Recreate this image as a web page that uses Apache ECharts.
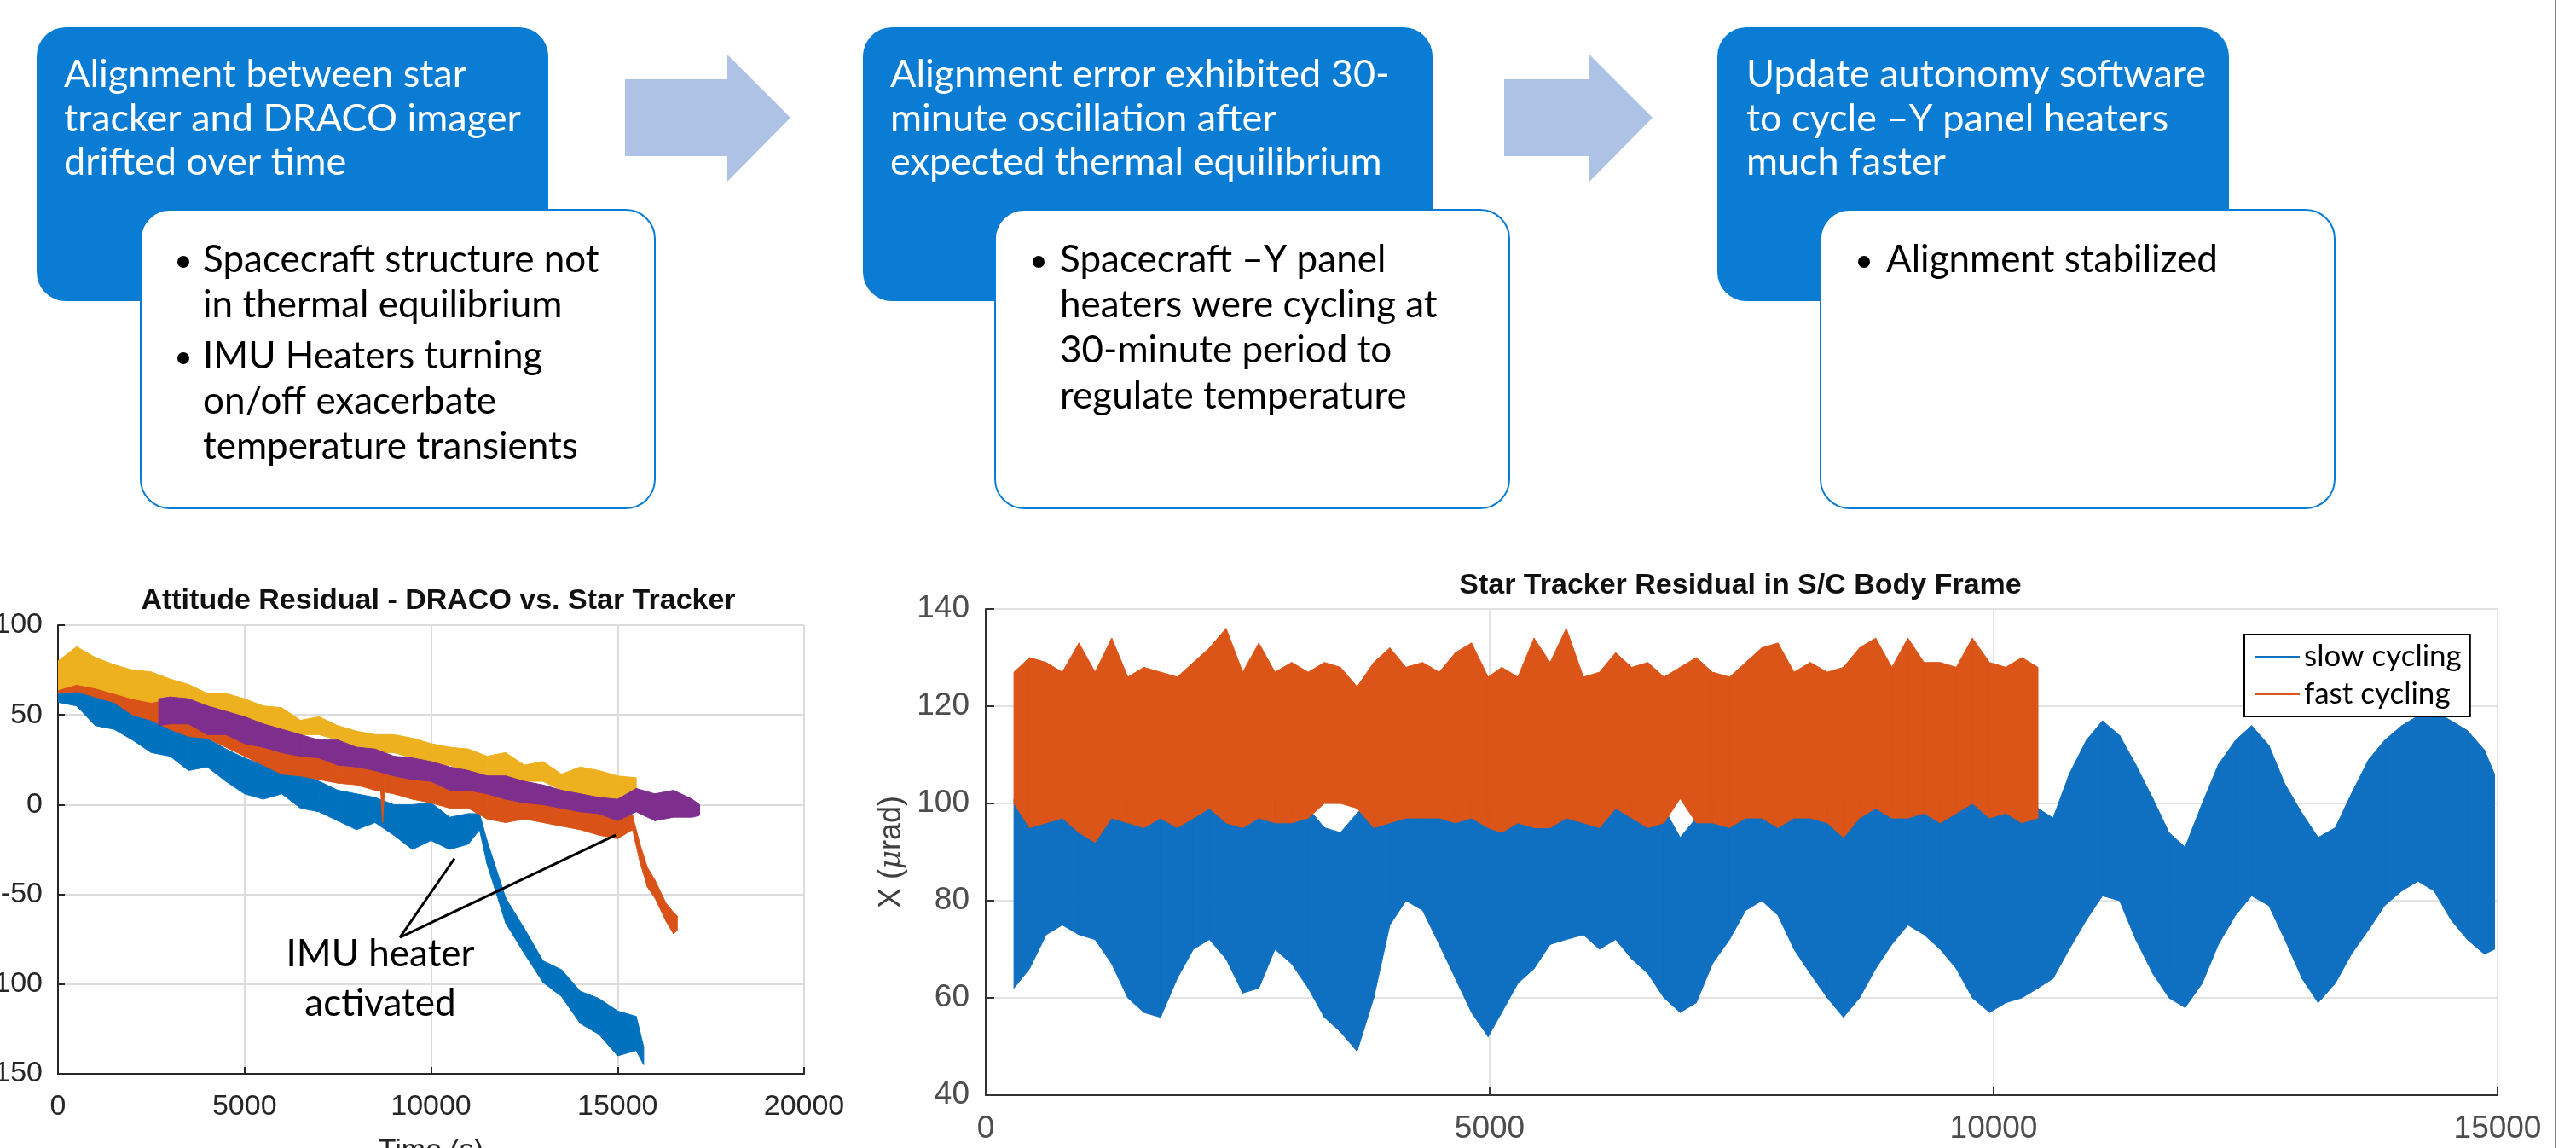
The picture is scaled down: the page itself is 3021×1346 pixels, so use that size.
<!DOCTYPE html>
<html>
<head>
<meta charset="utf-8">
<title>DRACO / star tracker alignment</title>
<script src="https://cdn.jsdelivr.net/npm/echarts@6/dist/echarts.min.js"></script>
<style>
  html, body { margin: 0; padding: 0; background: #fff; }
  #chart { width: 3021px; height: 1346px; }
</style>
</head>
<body>
<div id="chart"></div>
<script>
// ---- left plot: attitude residual, DRACO vs star tracker (band = low/high envelope of the noisy trace)
const blueT  = [0,500,1000,1500,2000,2500,3000,3500,4000,4500,5000,5500,6000,6500,7000,7500,8000,8500,9000,9500,10000,10500,11000,11300,11500,12000,12500,13000,13500,14000,14500,15000,15500,15700]
const blueLo = [57,55,44,42,36,29,27,19,21,13,6,3,6,-2,-4,-9,-14,-10,-17,-25,-20,-25,-22,-14,-33,-66,-83,-99,-107,-122,-128,-140,-137,-145]
const blueHi = [67,68,64,65,57,50,45,41,37,31,26,22,26,18,13,8,6,4,0,0,1,-7,-5,-5,-20,-52,-69,-87,-92,-104,-108,-115,-118,-135]

const orangeT  = [0,500,1000,1500,2000,2500,3000,3500,4000,4500,5000,5500,6000,6500,7000,7500,8000,8500,8650,8700,8750,9000,9500,10000,10500,11000,11500,12000,12500,13000,13500,14000,14500,15000,15400,15600,15800,16000,16300,16500,16600]
const orangeLo = [62,63,60,57,50,47,42,38,37,32,27,22,17,16,14,12,11,8,8,-10,7,6,3,1,-2,-2,-8,-10,-8,-10,-12,-14,-17,-19,-14,-32,-46,-52,-65,-72,-70]
const orangeHi = [78,80,78,74,73,63,58,52,50,48,45,42,39,37,36,30,27,25,24,20,23,22,21,19,10,9,9,8,6,6,3,0,-2,-3,-6,-22,-35,-42,-55,-60,-62]

const yellowT  = [0,500,1000,1500,2000,2500,3000,3500,4000,4500,5000,5500,6000,6500,7000,7500,8000,8500,9000,9500,10000,10500,11000,11500,12000,12500,13000,13500,14000,14500,15000,15500]
const yellowLo = [64,67,65,62,59,57,59,55,52,50,47,44,41,39,39,36,32,29,29,26,21,22,17,16,16,13,13,8,6,4,3,6]
const yellowHi = [80,88,82,78,75,74,70,67,62,62,59,55,54,47,49,44,41,39,39,37,34,32,31,27,29,22,24,17,21,19,16,15]

const purpleT  = [2700,3000,3500,4000,4500,5000,5500,6000,6500,7000,7500,8000,8500,9000,9500,10000,10500,11000,11500,12000,12500,13000,13500,14000,14500,15000,15500,16000,16500,17000,17200]
const purpleLo = [44,45,45,39,39,34,32,29,27,26,22,21,19,16,14,13,8,8,6,3,1,0,-2,-4,-5,-9,-4,-9,-7,-7,-6]
const purpleHi = [59,60,59,55,52,49,45,42,39,36,36,32,31,27,26,24,21,19,16,16,13,11,8,6,4,3,9,6,8,3,0]

// arrows of the "IMU heater activated" note: [from, to] in data units
const noteFrom = [9166, -74]
const noteTo = [[10629, -30], [14949, -17]]
const noteAt = [8640, -97]

// ---- right plot: star tracker residual X (urad), slow vs fast heater cycling
const resT = [280,435,600,760,925,1085,1250,1410,1570,1735,1900,2060,2220,2385,2550,2710,2870,3035,3200,3360,3520,3685,3850,4010,4170,4335,4500,4660,4820,4985,5120,5280,5440,5600,5760,5930,6090,6250,6410,6570,6730,6890,7050,7210,7380,7540,7700,7860,8020,8180,8350,8510,8670,8830,8990,9150,9310,9470,9630,9790,9960,10120,10280,10440,10590,10750,10920,11080,11250,11410,11580,11740,11900,12070,12230,12400,12560,12730,12890,13060,13220,13390,13550,13720,13880,14050,14210,14370,14540,14700,14870,14970]
const slowLo = [62,66,73,75,73,72,67,60,57,56,64,70,72,68,61,62,70,67,62,56,53,49,60,75,80,78,71,64,57,52,57,63,66,71,72,73,70,72,68,65,60,57,59,67,72,78,80,77,70,65,60,56,60,66,71,75,73,70,66,60,57,59,60,62,64,70,76,81,80,72,65,60,58,63,71,77,81,79,72,64,59,63,69,74,79,82,84,82,76,72,69,70]
const slowHi = [101,100,101,102,100,101,100,101,102,100,101,100,101,100,101,100,101,100,99,95,94,98,101,102,101,100,101,100,101,100,101,100,101,102,101,100,101,100,101,100,99,93,97,101,100,101,102,101,100,101,100,101,100,101,102,101,100,101,100,101,100,101,100,99,97,106,113,117,114,108,101,94,91,100,108,113,116,112,104,98,93,95,102,109,113,116,118,119,117,115,111,106]
const fastLo = [100,95,96,97,94,92,97,96,95,97,95,97,99,96,95,97,96,96,97,100,100,99,95,96,97,97,97,96,97,95,94,96,95,95,97,96,95,99,97,95,96,101,96,96,95,97,97,95,97,97,96,93,97,99,97,97,98,96,98,100,97,98,96,97]
const fastHi = [127,130,129,127,133,127,134,126,128,127,126,129,132,136,127,133,127,129,127,129,128,124,129,132,128,129,127,131,133,126,128,126,134,129,136,126,127,131,128,129,126,128,130,127,126,129,132,133,127,129,127,128,132,134,128,134,129,129,128,134,129,128,130,128]

const FONT_AX = 'Liberation Sans'
const FONT_TXT = 'Lato'
const BOX_BLUE = '#0B7CD3'

// envelope band: one quad per step, from (t, lo..hi) to the next sample
function band(name, t, lo, hi, color, axis) {
  return {
    name: name, type: 'custom', xAxisIndex: axis, yAxisIndex: axis,
    silent: true, animation: false, clip: true,
    itemStyle: { color: color },
    encode: { x: 0, y: [1, 2] },
    data: t.map((x, i) => [x, lo[i], hi[i]]),
    renderItem: function (params, api) {
      const i = params.dataIndexInside
      if (i >= t.length - 1) return null
      const p0 = api.coord([api.value(0), api.value(1)])
      const p1 = api.coord([api.value(0), api.value(2)])
      const p2 = api.coord([api.value(0, i + 1), api.value(2, i + 1)])
      const p3 = api.coord([api.value(0, i + 1), api.value(1, i + 1)])
      return {
        type: 'polygon',
        shape: { points: [p0, p1, p2, p3] },
        style: { fill: color, stroke: color, lineWidth: 1 }
      }
    }
  }
}

function axisStyle(color, w) {
  return { show: true, onZero: false, lineStyle: { color: color, width: w } }
}

// slide boxes and arrows (layout only)
function flowGraphics() {
  const els = []
  const blue = [[43, 600], [1012, 668], [2014, 600]]
  const white = [165, 1167, 2135]
  blue.forEach(b => els.push({ type: 'rect', shape: { x: b[0], y: 32, width: b[1], height: 321, r: 34 }, style: { fill: BOX_BLUE } }))
  white.forEach(x => els.push({ type: 'rect', z: 2, shape: { x: x, y: 246, width: 603, height: 350, r: 34 }, style: { fill: '#fff', stroke: BOX_BLUE, lineWidth: 2 } }))
  const arrow = (x0, xh, xt) => ({
    type: 'polygon',
    shape: { points: [[x0, 93], [xh, 93], [xh, 64], [xt, 138], [xh, 213], [xh, 183], [x0, 183]] },
    style: { fill: '#AEC2E6' }
  })
  els.push(arrow(733, 853, 927), arrow(1764, 1864, 1938))

  const head = (x, text) => ({
    type: 'text', x: x, y: 62, z: 3,
    style: { text: text, font: '45px ' + FONT_TXT, fill: '#fff', lineHeight: 51.5, align: 'left', verticalAlign: 'top', textAlign: 'left', textVerticalAlign: 'top' }
  })
  els.push(head(75, 'Alignment between star\ntracker and DRACO imager\ndrifted over time'))
  els.push(head(1044, 'Alignment error exhibited 30-\nminute oscillation after\nexpected thermal equilibrium'))
  els.push(head(2048, 'Update autonomy software\nto cycle \u2013Y panel heaters\nmuch faster'))

  const bullet = (xd, xt, y, text) => {
    els.push({ type: 'circle', z: 3, shape: { cx: xd, cy: y + 29, r: 7 }, style: { fill: '#000' } })
    els.push({
      type: 'text', x: xt, y: y, z: 3,
      style: { text: text, font: '44px ' + FONT_TXT, fill: '#000', lineHeight: 53.3, align: 'left', verticalAlign: 'top', textAlign: 'left', textVerticalAlign: 'top' }
    })
  }
  bullet(215, 238, 278, 'Spacecraft structure not\nin thermal equilibrium')
  bullet(215, 238, 391, 'IMU Heaters turning\non/off exacerbate\ntemperature transients')
  bullet(1218, 1243, 278, 'Spacecraft \u2013Y panel\nheaters were cycling at\n30-minute period to\nregulate temperature')
  bullet(2186, 2212, 278, 'Alignment stabilized')

  // plot titles
  const title = (x, y, text) => ({
    type: 'text', x: x, y: y, z: 3,
    style: { text: text, font: 'bold 34px ' + FONT_AX, fill: '#111', align: 'center', verticalAlign: 'middle', textAlign: 'center', textVerticalAlign: 'middle' }
  })
  els.push(title(514, 705, 'Attitude Residual - DRACO vs. Star Tracker'))
  els.push(title(2041, 687, 'Star Tracker Residual in S/C Body Frame'))

  els.push({ type: 'line', shape: { x1: 2997, y1: 0, x2: 2997, y2: 1346 }, style: { stroke: '#8a8a8a', lineWidth: 2 } })
  return els
}

const chart = echarts.init(document.getElementById('chart'))

const series = [
  band('blue', blueT, blueLo, blueHi, '#0072BD', 0),
  band('orange', orangeT, orangeLo, orangeHi, '#D95319', 0),
  band('yellow', yellowT, yellowLo, yellowHi, '#EDB120', 0),
  band('purple', purpleT, purpleLo, purpleHi, '#7E2F8E', 0),
  band('slow cycling', resT, slowLo, slowHi, '#0F6FC0', 1),
  band('fast cycling', resT.slice(0, fastHi.length), fastLo, fastHi, '#DB5418', 1),
  {
    name: 'note', type: 'line', xAxisIndex: 0, yAxisIndex: 0, data: [], silent: true, animation: false,
    markLine: {
      silent: true, animation: false,
      symbol: ['none', 'arrow'], symbolSize: [0, 20],
      lineStyle: { color: '#000', width: 3, type: 'solid' },
      label: { show: false },
      data: noteTo.map(p => [{ coord: noteFrom }, { coord: p }])
    },
    markPoint: {
      silent: true, animation: false,
      symbol: 'circle', symbolSize: 0,
      label: {
        show: true, position: 'inside', formatter: 'IMU heater\nactivated',
        fontFamily: FONT_TXT, fontSize: 44, color: '#000', lineHeight: 58
      },
      data: [{ coord: noteAt }]
    }
  }
]

const plain = v => String(v)

const option = {
  animation: false,
  graphic: { elements: flowGraphics() },
  grid: [
    { left: 68, top: 733, width: 875, height: 526, outerBoundsMode: 'none', containLabel: false },
    { left: 1156, top: 714, width: 1773, height: 570, outerBoundsMode: 'none', containLabel: false }
  ],
  legend: {
    data: ['slow cycling', 'fast cycling'],
    orient: 'vertical', left: 2632, top: 744,
    backgroundColor: '#fff', borderColor: '#000', borderWidth: 2,
    padding: [6, 10, 6, 12], itemGap: 4,
    icon: 'rect', itemWidth: 53, itemHeight: 2,
    selectedMode: false,
    textStyle: { fontFamily: FONT_TXT, fontSize: 35, color: '#000', lineHeight: 40 }
  },
  xAxis: [
    {
      gridIndex: 0, type: 'value', min: 0, max: 20000, interval: 5000,
      axisLine: axisStyle('#262626', 2),
      axisTick: { show: true, inside: true, length: 8, lineStyle: { color: '#262626', width: 2 } },
      axisLabel: { fontFamily: FONT_AX, fontSize: 34, color: '#262626', margin: 22, formatter: plain },
      splitLine: { show: true, lineStyle: { color: '#dcdcdc', width: 2 } },
      name: 'Time (s)', nameLocation: 'middle', nameGap: 74,
      nameTextStyle: { fontFamily: FONT_AX, fontSize: 34, color: '#262626' }
    },
    {
      gridIndex: 1, type: 'value', min: 0, max: 15000, interval: 5000,
      axisLine: axisStyle('#333', 2),
      axisTick: { show: true, inside: true, length: 10, lineStyle: { color: '#333', width: 2 } },
      axisLabel: { fontFamily: FONT_AX, fontSize: 37, color: '#4d4d4d', margin: 21, formatter: plain },
      splitLine: { show: true, lineStyle: { color: '#e2e2e2', width: 2 } }
    }
  ],
  yAxis: [
    {
      gridIndex: 0, type: 'value', min: -150, max: 100, interval: 50,
      axisLine: axisStyle('#262626', 2),
      axisTick: { show: true, inside: true, length: 8, lineStyle: { color: '#262626', width: 2 } },
      axisLabel: { fontFamily: FONT_AX, fontSize: 34, color: '#262626', margin: 18 },
      splitLine: { show: true, lineStyle: { color: '#dcdcdc', width: 2 } }
    },
    {
      gridIndex: 1, type: 'value', min: 40, max: 140, interval: 20,
      axisLine: axisStyle('#333', 2),
      axisTick: { show: true, inside: true, length: 10, lineStyle: { color: '#333', width: 2 } },
      axisLabel: { fontFamily: FONT_AX, fontSize: 37, color: '#4d4d4d', margin: 19 },
      splitLine: { show: true, lineStyle: { color: '#e2e2e2', width: 2 } },
      name: 'X ({i|\u03bc}rad)', nameLocation: 'middle', nameGap: 90,
      nameTextStyle: {
        fontFamily: FONT_AX, fontSize: 36, color: '#404040',
        rich: { i: { fontFamily: 'DejaVu Serif', fontStyle: 'italic', fontSize: 34, color: '#404040' } }
      }
    }
  ],
  series: series
}

chart.setOption(option)
window.addEventListener('resize', () => chart.resize())
</script>
</body>
</html>
